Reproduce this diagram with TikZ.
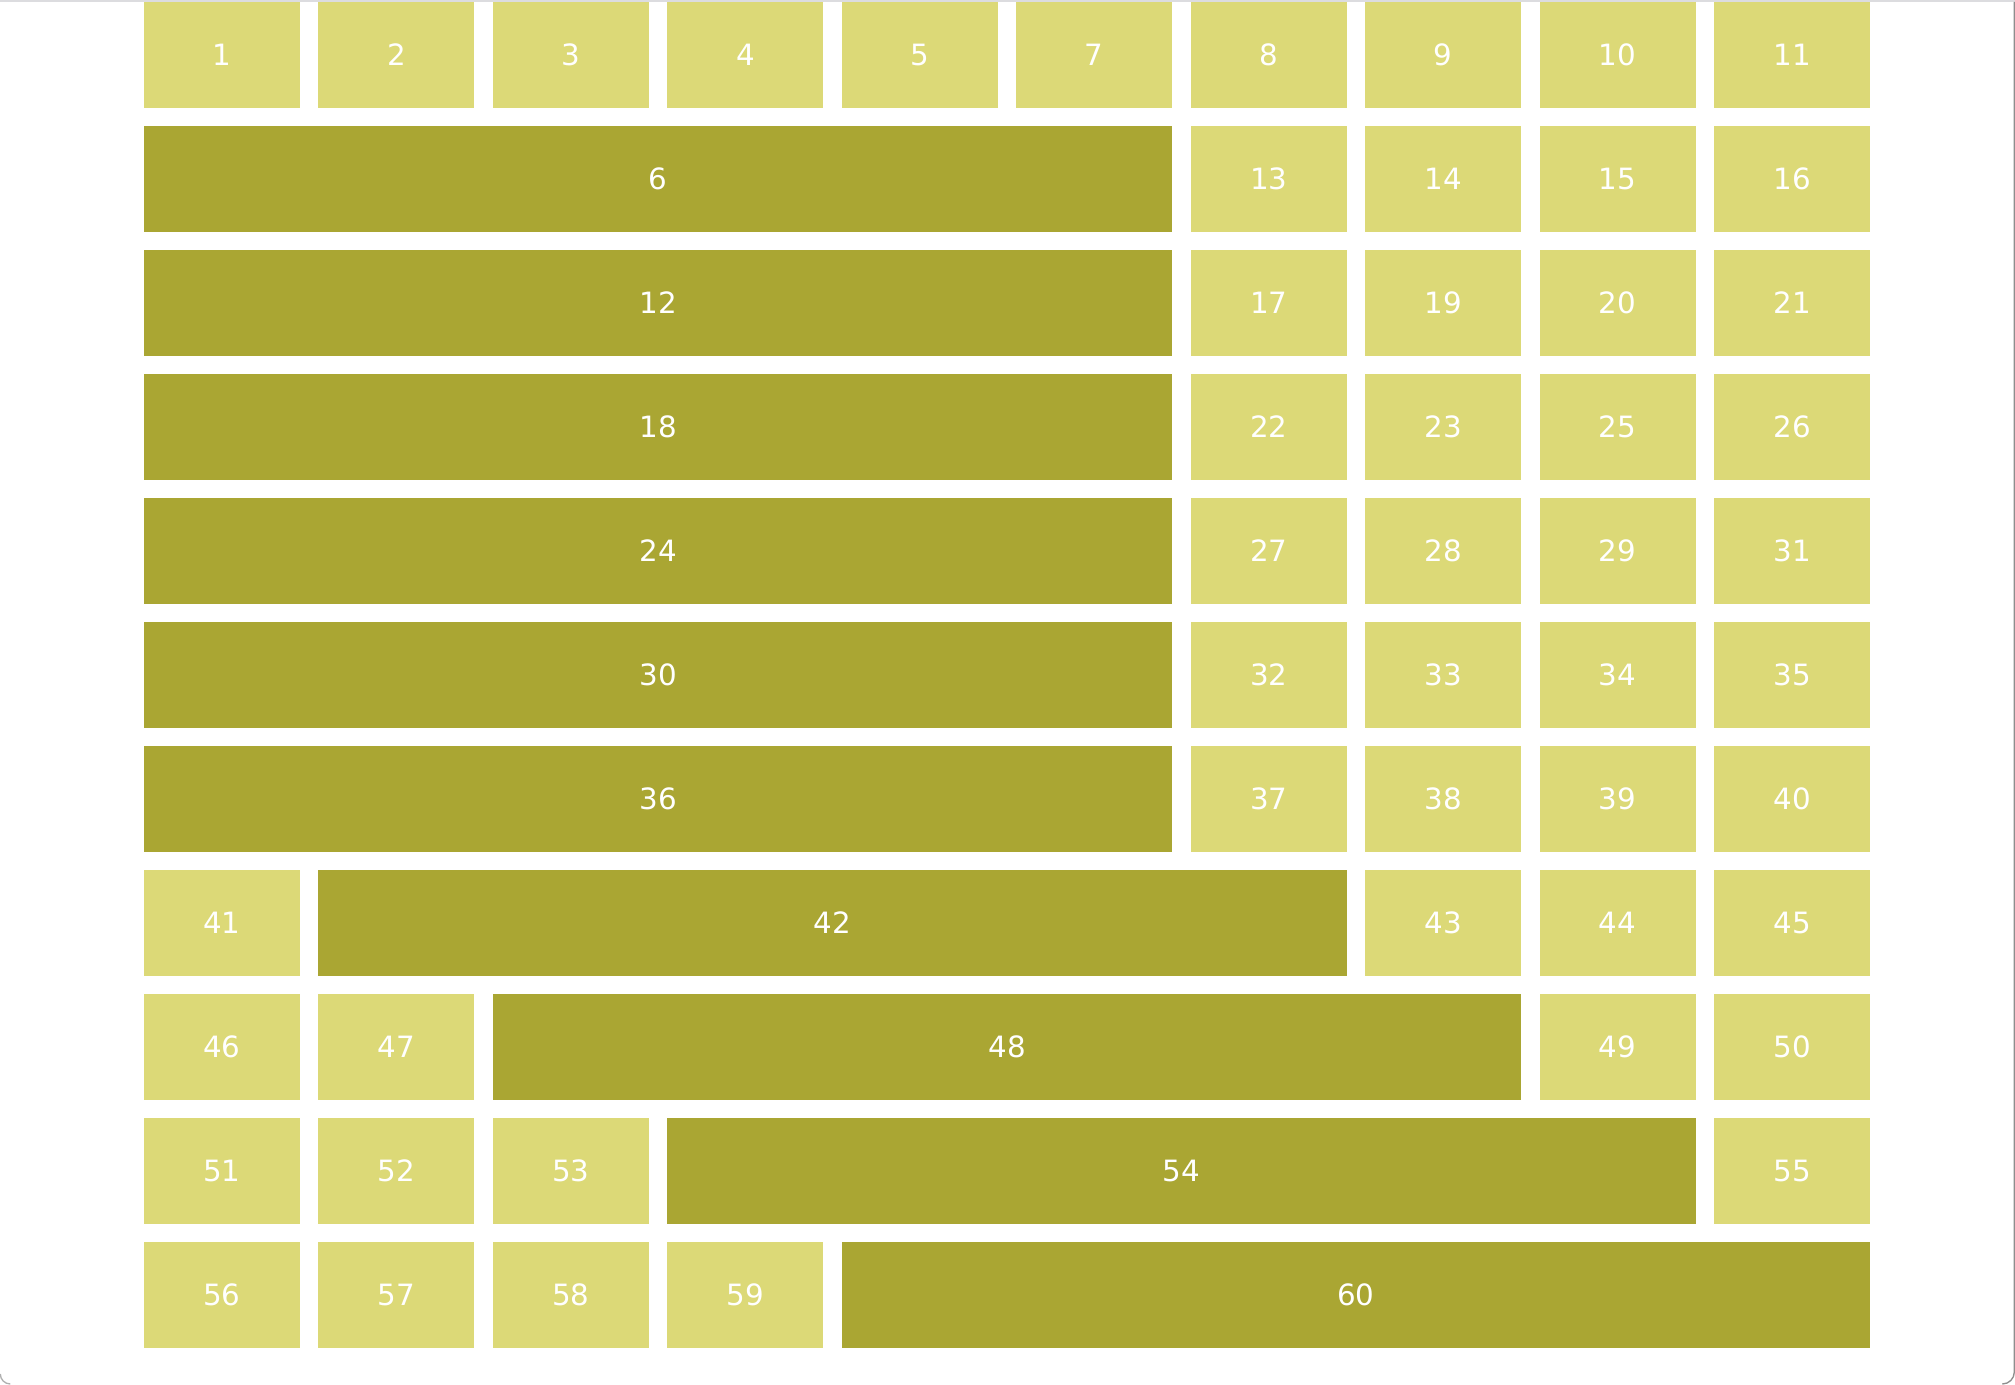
\documentclass[tikz,border=0pt]{standalone}
\usepackage{fontspec}
\setmainfont{DejaVu Sans}
\definecolor{celllight}{HTML}{DCD977}
\definecolor{celldark}{HTML}{AAA633}
\definecolor{rimlight}{HTML}{DCDCDF}
\definecolor{rimdark}{HTML}{8E8E8E}
\begin{document}
\begin{tikzpicture}[x=0.375pt,y=-0.375pt,
  cell/.style={fill=celllight,text=white,inner sep=0pt,outer sep=0pt,
    minimum width=58.5pt,minimum height=39.75pt,
    font=\fontsize{11}{13}\selectfont},
  wide/.style={cell,fill=celldark,minimum width=385.6pt}]
  % Page and window rim
  \useasboundingbox[fill=white] (0,0) rectangle (2015,1385);
  \fill[rimlight] (0,0) rectangle (2015,2);
  \draw[rimdark,line width=0.5pt] (2014.3,2) -- (2014.3,1372) arc (0:90:12);
  \draw[rimdark!70,line width=0.5pt] (0.3,1374) arc (180:90:10);
  % Row 1
  \node[cell] (n1) at (222,55) {1};
  \node[cell] (n2) at (396.44,55) {2};
  \node[cell] (n3) at (570.89,55) {3};
  \node[cell] (n4) at (745.33,55) {4};
  \node[cell] (n5) at (919.78,55) {5};
  \node[cell] (n7) at (1094.22,55) {7};
  \node[cell] (n8) at (1268.67,55) {8};
  \node[cell] (n9) at (1443.11,55) {9};
  \node[cell] (n10) at (1617.56,55) {10};
  \node[cell] (n11) at (1792,55) {11};
  % Row 2
  \node[wide] (n6) at (658.1,179) {6};
  \node[cell] (n13) at (1268.67,179) {13};
  \node[cell] (n14) at (1443.11,179) {14};
  \node[cell] (n15) at (1617.56,179) {15};
  \node[cell] (n16) at (1792,179) {16};
  % Row 3
  \node[wide] (n12) at (658.1,303) {12};
  \node[cell] (n17) at (1268.67,303) {17};
  \node[cell] (n19) at (1443.11,303) {19};
  \node[cell] (n20) at (1617.56,303) {20};
  \node[cell] (n21) at (1792,303) {21};
  % Row 4
  \node[wide] (n18) at (658.1,427) {18};
  \node[cell] (n22) at (1268.67,427) {22};
  \node[cell] (n23) at (1443.11,427) {23};
  \node[cell] (n25) at (1617.56,427) {25};
  \node[cell] (n26) at (1792,427) {26};
  % Row 5
  \node[wide] (n24) at (658.1,551) {24};
  \node[cell] (n27) at (1268.67,551) {27};
  \node[cell] (n28) at (1443.11,551) {28};
  \node[cell] (n29) at (1617.56,551) {29};
  \node[cell] (n31) at (1792,551) {31};
  % Row 6
  \node[wide] (n30) at (658.1,675) {30};
  \node[cell] (n32) at (1268.67,675) {32};
  \node[cell] (n33) at (1443.11,675) {33};
  \node[cell] (n34) at (1617.56,675) {34};
  \node[cell] (n35) at (1792,675) {35};
  % Row 7
  \node[wide] (n36) at (658.1,799) {36};
  \node[cell] (n37) at (1268.67,799) {37};
  \node[cell] (n38) at (1443.11,799) {38};
  \node[cell] (n39) at (1617.56,799) {39};
  \node[cell] (n40) at (1792,799) {40};
  % Row 8
  \node[cell] (n41) at (222,923) {41};
  \node[wide] (n42) at (832.5,923) {42};
  \node[cell] (n43) at (1443.11,923) {43};
  \node[cell] (n44) at (1617.56,923) {44};
  \node[cell] (n45) at (1792,923) {45};
  % Row 9
  \node[cell] (n46) at (222,1047) {46};
  \node[cell] (n47) at (396.44,1047) {47};
  \node[wide] (n48) at (1007,1047) {48};
  \node[cell] (n49) at (1617.56,1047) {49};
  \node[cell] (n50) at (1792,1047) {50};
  % Row 10
  \node[cell] (n51) at (222,1171) {51};
  \node[cell] (n52) at (396.44,1171) {52};
  \node[cell] (n53) at (570.89,1171) {53};
  \node[wide] (n54) at (1181.4,1171) {54};
  \node[cell] (n55) at (1792,1171) {55};
  % Row 11
  \node[cell] (n56) at (222,1295) {56};
  \node[cell] (n57) at (396.44,1295) {57};
  \node[cell] (n58) at (570.89,1295) {58};
  \node[cell] (n59) at (745.33,1295) {59};
  \node[wide] (n60) at (1355.9,1295) {60};
\end{tikzpicture}
\end{document}
